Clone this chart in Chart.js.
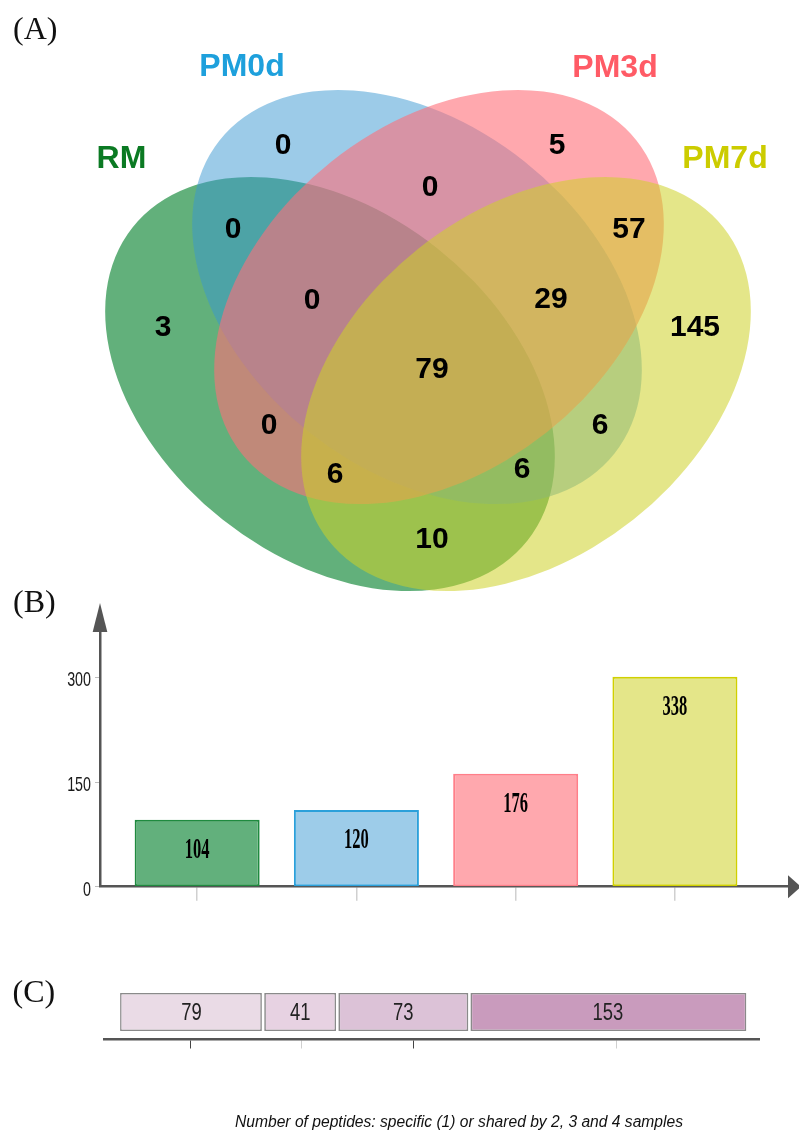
<!DOCTYPE html>
<html><head><meta charset="utf-8">
<script src="https://cdn.jsdelivr.net/npm/chart.js@4/dist/chart.umd.min.js"></script>
<style>
html,body{margin:0;padding:0;background:#fff;width:799px;height:1130px;overflow:hidden;position:relative}
.box{position:absolute;left:0;width:799px}
canvas{display:block}
</style></head><body>
<div class="box" style="top:0;height:600px"><canvas id="venn" width="799" height="600"></canvas></div>
<div class="box" style="top:580px;height:330px"><canvas id="bars" width="799" height="330"></canvas></div>
<div class="box" style="top:960px;height:170px"><canvas id="stack" width="799" height="170"></canvas></div>
<script>
// ---------------- DATA ----------------
const setNames = ['RM', 'PM0d', 'PM3d', 'PM7d'];
const regionSets = ['RM', 'PM0d', 'PM3d', 'PM7d',
  'RM&PM0d', 'RM&PM3d', 'RM&PM7d', 'PM0d&PM3d', 'PM0d&PM7d', 'PM3d&PM7d',
  'RM&PM0d&PM3d', 'RM&PM0d&PM7d', 'RM&PM3d&PM7d', 'PM0d&PM3d&PM7d',
  'RM&PM0d&PM3d&PM7d'];
const regionCounts = [3, 0, 5, 145, 0, 0, 10, 0, 6, 57, 0, 6, 6, 29, 79];
const totalLabels = [104, 120, 176, 338];      // numbers printed on the bars of (B)
const barHeights = [96, 110, 162, 301];        // bar heights read against the (B) axis
const yTickValues = [0, 150, 300];
const sharedCounts = [79, 41, 73, 153];        // shared by 4, 3, 2 samples / specific
const sharedTickValues = [39, 100, 162, 274];
const caption = 'Number of peptides: specific (1) or shared by 2, 3 and 4 samples';

// ---------------- LAYOUT / STYLE ----------------
const SANS = '"Liberation Sans", Arial, sans-serif';
const SERIF = '"Liberation Serif", "Times New Roman", serif';
const regionPos = {
  'RM': [163, 325], 'PM0d': [283, 143], 'PM3d': [557, 143], 'PM7d': [695, 325],
  'RM&PM0d': [233, 227], 'RM&PM3d': [269, 423], 'RM&PM7d': [432, 537],
  'PM0d&PM3d': [430, 185], 'PM0d&PM7d': [600, 423], 'PM3d&PM7d': [629, 227],
  'RM&PM0d&PM3d': [312, 298], 'RM&PM0d&PM7d': [522, 467], 'RM&PM3d&PM7d': [335, 472],
  'PM0d&PM3d&PM7d': [551, 297], 'RM&PM0d&PM3d&PM7d': [432, 367]
};
const setLabelPos = {RM: [121.5, 168], PM0d: [242, 76], PM3d: [615, 76.5], PM7d: [725, 168]};
const setLabelColor = {RM: '#0b7a23', PM0d: '#1ea0dc', PM3d: '#ff5b66', PM7d: '#cccc00'};
const ELL_A = 252, ELL_B = 173;
const vennShapes = {
  RM:   {cx: 330, cy: 384, rot: 38.4,  color: 'rgb(14,134,52)',   alpha: 0.65},
  PM0d: {cx: 417, cy: 297, rot: 38.4,  color: 'rgb(57,151,209)',  alpha: 0.5},
  PM3d: {cx: 439, cy: 297, rot: -38.4, color: 'rgb(255,110,120)', alpha: 0.6},
  PM7d: {cx: 526, cy: 384, rot: -38.4, color: 'rgb(206,210,40)',  alpha: 0.55}
};
const barFill = ['#62b07c', '#9dcce9', '#ffa8ae', '#e4e689'];
const barEdge = ['#1f8a3f', '#2ba0da', '#ff7f89', '#d0d000'];
const segFill = ['#eadbe6', '#e7d2e2', '#dcc2d7', '#c99bbd'];

function panelLetter(ctx, text, x, y) {
  ctx.save();
  ctx.font = '32px ' + SERIF;
  ctx.fillStyle = '#111';
  ctx.textAlign = 'left';
  ctx.textBaseline = 'alphabetic';
  ctx.fillText(text, x, y);
  ctx.restore();
}
function squeezedText(ctx, text, x, y, font, sx, color) {
  ctx.save();
  ctx.translate(x, y);
  ctx.scale(sx, 1);
  ctx.font = font;
  ctx.fillStyle = color;
  ctx.textAlign = 'center';
  ctx.textBaseline = 'alphabetic';
  ctx.fillText(text, 0, 0);
  ctx.restore();
}

// ---------------- (A) VENN ----------------
const vennPlugin = {
  id: 'venn',
  beforeDatasetsDraw(chart) {
    const ctx = chart.ctx, xs = chart.scales.x, ys = chart.scales.y;
    const kx = Math.abs(xs.getPixelForValue(1) - xs.getPixelForValue(0));
    const ky = Math.abs(ys.getPixelForValue(1) - ys.getPixelForValue(0));
    setNames.forEach(n => {
      const s = vennShapes[n];
      ctx.save();
      ctx.globalAlpha = s.alpha;
      ctx.fillStyle = s.color;
      ctx.beginPath();
      ctx.ellipse(xs.getPixelForValue(s.cx), ys.getPixelForValue(s.cy), ELL_A * kx, ELL_B * ky,
        s.rot * Math.PI / 180, 0, Math.PI * 2);
      ctx.fill();
      ctx.restore();
    });
  },
  afterDatasetsDraw(chart) {
    const ctx = chart.ctx, xs = chart.scales.x, ys = chart.scales.y;
    const meta = chart.getDatasetMeta(0);
    ctx.save();
    ctx.font = 'bold 30px ' + SANS;
    ctx.fillStyle = '#000';
    ctx.textAlign = 'center';
    ctx.textBaseline = 'alphabetic';
    meta.data.forEach((pt, i) => {
      ctx.fillText(String(regionCounts[i]), pt.x, pt.y + 10.7);
    });
    ctx.font = 'bold 32px ' + SANS;
    setNames.forEach(n => {
      const p = setLabelPos[n];
      ctx.fillStyle = setLabelColor[n];
      ctx.fillText(n, xs.getPixelForValue(p[0]), ys.getPixelForValue(p[1]));
    });
    ctx.restore();
    panelLetter(ctx, '(A)', 13, 39);
  }
};
new Chart(document.getElementById('venn'), {
  type: 'scatter',
  data: {datasets: [{
    data: regionSets.map(r => ({x: regionPos[r][0], y: regionPos[r][1]})),
    pointRadius: 0, pointHoverRadius: 0
  }]},
  options: {
    responsive: false, animation: false, devicePixelRatio: 1, events: [],
    layout: {padding: 0, autoPadding: false},
    plugins: {legend: {display: false}, tooltip: {enabled: false}},
    scales: {
      x: {type: 'linear', display: false, min: 0, max: 799},
      y: {type: 'linear', display: false, min: 0, max: 600, reverse: true}
    }
  },
  plugins: [vennPlugin]
});

// ---------------- (B) BARS ----------------
const barsPlugin = {
  id: 'barsDeco',
  afterDatasetsDraw(chart) {
    const ctx = chart.ctx;
    const meta = chart.getDatasetMeta(0);
    meta.data.forEach((bar, i) => {
      squeezedText(ctx, String(totalLabels[i]), bar.x, bar.y + 28 + 10, 'bold 30px ' + SERIF, 0.55, '#000');
    });
  },
  afterDraw(chart) {
    const ctx = chart.ctx, ca = chart.chartArea, ys = chart.scales.y;
    ctx.save();
    ctx.fillStyle = '#555';
    // y arrow
    ctx.beginPath();
    ctx.moveTo(ca.left - 7.3, ca.top);
    ctx.lineTo(ca.left + 7.3, ca.top);
    ctx.lineTo(ca.left, ca.top - 29);
    ctx.closePath();
    ctx.fill();
    // x arrow
    ctx.beginPath();
    ctx.moveTo(ca.right, ca.bottom - 11.5);
    ctx.lineTo(ca.right, ca.bottom + 11.5);
    ctx.lineTo(ca.right + 13, ca.bottom);
    ctx.closePath();
    ctx.fill();
    // y tick labels
    ys.ticks.forEach(t => {
      ctx.save();
      ctx.translate(ca.left - 9, ys.getPixelForValue(t.value) + 9);
      ctx.scale(0.68, 1);
      ctx.font = '21px ' + SANS;
      ctx.fillStyle = '#1a1a1a';
      ctx.textAlign = 'right';
      ctx.textBaseline = 'alphabetic';
      ctx.fillText(String(t.value), 0, 0);
      ctx.restore();
    });
    ctx.restore();
    panelLetter(ctx, '(B)', 13, 32);
  }
};
new Chart(document.getElementById('bars'), {
  type: 'bar',
  data: {datasets: [{
    data: barHeights.map((h, i) => ({x: i + 1, y: h})),
    backgroundColor: barFill, borderColor: barEdge, borderWidth: 2, borderSkipped: false,
    barPercentage: 0.785, categoryPercentage: 1
  }]},
  options: {
    responsive: false, animation: false, devicePixelRatio: 1, events: [],
    layout: {padding: {top: 52, right: 11, left: 0, bottom: 0}},
    plugins: {legend: {display: false}, tooltip: {enabled: false}},
    scales: {
      x: {
        type: 'linear', min: 0.39, max: 4.71, offset: false,
        afterBuildTicks: s => { s.ticks = setNames.map((n, i) => ({value: i + 1})); },
        afterFit: s => { s.height = 23.3; },
        grid: {offset: false, drawOnChartArea: false, drawTicks: true, tickLength: 14, color: '#d0d0d0', lineWidth: 1.5},
        border: {display: true, color: '#555', width: 2.5},
        ticks: {display: false}
      },
      y: {
        type: 'linear', min: 0, max: 365,
        afterBuildTicks: s => { s.ticks = yTickValues.map(v => ({value: v})); },
        afterFit: s => { s.width = 100; },
        grid: {drawOnChartArea: false, drawTicks: true, tickLength: 5, color: '#bdbdbd', lineWidth: 1},
        border: {display: true, color: '#555', width: 2.5},
        ticks: {display: false}
      }
    }
  },
  plugins: [barsPlugin]
});

// ---------------- (C) STACKED ----------------
const stackPlugin = {
  id: 'stackDeco',
  afterDatasetsDraw(chart) {
    const ctx = chart.ctx;
    const bars = chart.data.datasets.map((d, i) => chart.getDatasetMeta(i).data[0]);
    ctx.save();
    ctx.fillStyle = '#fff';
    bars.forEach((b, i) => {
      if (i === 0) return;
      const h = b.height;
      ctx.fillRect(Math.min(b.x, b.base) - 1.3, b.y - h / 2 - 1, 2.6, h + 2);
    });
    ctx.restore();
    bars.forEach((b, i) => {
      squeezedText(ctx, String(sharedCounts[i]), (b.x + b.base) / 2, b.y + 8, '23px ' + SANS, 0.8, '#222');
    });
    // caption
    ctx.save();
    ctx.font = 'italic 16px ' + SANS;
    ctx.fillStyle = '#111';
    ctx.textAlign = 'center';
    ctx.textBaseline = 'alphabetic';
    const w = ctx.measureText(caption).width;
    ctx.translate(459, 166.5);
    ctx.scale(448 / w, 1);
    ctx.fillText(caption, 0, 0);
    ctx.restore();
    panelLetter(ctx, '(C)', 12.5, 42);
  }
};
const lastSeg = sharedCounts.length - 1;
new Chart(document.getElementById('stack'), {
  type: 'bar',
  data: {
    labels: ['peptides'],
    datasets: sharedCounts.map((v, i) => ({
      data: [v], backgroundColor: segFill[i], borderColor: '#8a8a8a', borderSkipped: false,
      borderWidth: {top: 1.5, bottom: 1.5, left: i === 0 ? 1.5 : 2.8, right: i === lastSeg ? 1.5 : 2.8},
      barPercentage: 0.69, categoryPercentage: 1
    }))
  },
  options: {
    indexAxis: 'y', responsive: false, animation: false, devicePixelRatio: 1, events: [],
    layout: {padding: {top: 24.5, left: 103.8, right: 40, bottom: 0}},
    plugins: {legend: {display: false}, tooltip: {enabled: false}},
    scales: {
      x: {
        type: 'linear', stacked: true, min: -9, max: 353, offset: false,
        afterBuildTicks: s => { s.ticks = sharedTickValues.map(v => ({value: v})); },
        afterFit: s => { s.height = 90.5; },
        grid: {offset: false, drawOnChartArea: false, drawTicks: true, tickLength: 9,
          color: c => (c.index % 2 === 0 ? '#444' : '#cfcfcf'), lineWidth: 1},
        border: {display: true, color: '#555', width: 2.5},
        ticks: {display: false}
      },
      y: {stacked: true, display: false}
    }
  },
  plugins: [stackPlugin]
});
</script>
</body></html>
